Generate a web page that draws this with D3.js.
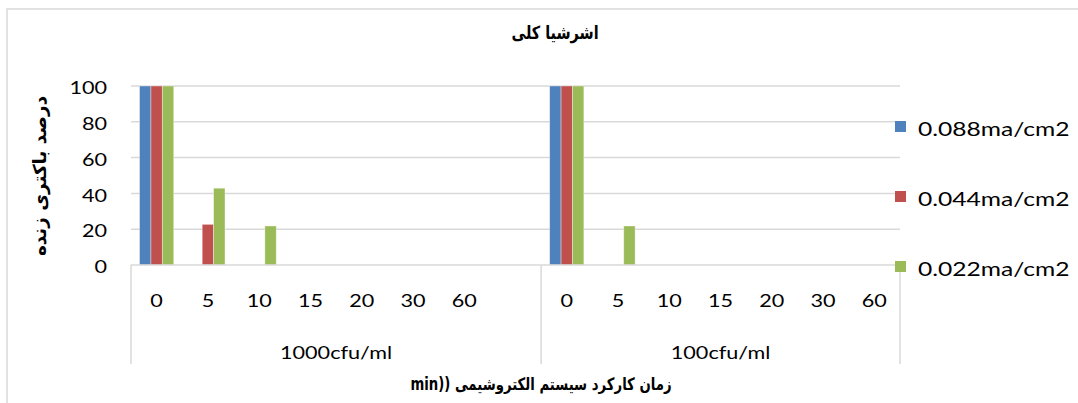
<!DOCTYPE html>
<html>
<head>
<meta charset="utf-8">
<script src="https://cdn.jsdelivr.net/npm/d3@7"></script>
<style>
  html, body { margin: 0; padding: 0; background: #fff; }
  svg { display: block; }
  .latin { font-family: Lato, "Open Sans", sans-serif; fill: #000; }
  .fa { font-family: "DejaVu Sans", sans-serif; font-weight: bold; fill: #000; }
</style>
</head>
<body>
<svg id="chart" width="1078" height="403"></svg>
<script>
// Survival of E. coli under three current densities, two inoculum levels
const chartTitle = "اشرشیا کلی";
const yTitle = "درصد باکتری زنده";
const xTitle = "زمان کارکرد سیستم الکتروشیمی ((min";

const groupLabels = ["1000cfu/ml", "100cfu/ml"];
// time labels (min) per group; the first group carries one empty slot
const timeLabels1000 = ["0", "5", "10", "15", "20", "30", "60", ""];
const timeLabels100 = ["0", "5", "10", "15", "20", "30", "60"];

const seriesNames = ["0.088ma/cm2", "0.044ma/cm2", "0.022ma/cm2"];
const seriesColors = ["#4F81BD", "#C0504D", "#9BBB59"];

const values088_1000 = [100, 0, 0, 0, 0, 0, 0, null];
const values044_1000 = [100, 22.7, 0, 0, 0, 0, 0, null];
const values022_1000 = [100, 42.9, 21.8, 0, 0, 0, 0, null];
const values088_100 = [100, 0, 0, 0, 0, 0, 0];
const values044_100 = [100, 0, 0, 0, 0, 0, 0];
const values022_100 = [100, 21.8, 0, 0, 0, 0, 0];

const yTicks = [0, 20, 40, 60, 80, 100];

// ---- build slot list ----
const slots = [];
[[timeLabels1000, [values088_1000, values044_1000, values022_1000]],
 [timeLabels100, [values088_100, values044_100, values022_100]]]
  .forEach(([labels, vals], g) => {
    labels.forEach((lab, i) => {
      slots.push({ key: g + "-" + i, group: g, label: lab,
                   values: vals.map(v => v[i]) });
    });
  });

const svg = d3.select("#chart");
const SX = 1.2; // horizontal text stretch

function addText(parent, x, y, str, cls, size, anchor, sx, rotate) {
  const t = parent.append("text")
    .attr("class", cls)
    .attr("font-size", size)
    .attr("text-anchor", anchor || "middle")
    .attr("dominant-baseline", "central")
    .attr("transform", `translate(${x},${y})` + (rotate ? ` rotate(${rotate})` : "") + ` scale(${sx || SX},1)`)
    .text(str);
  if (cls === "fa") t.attr("direction", "rtl").attr("unicode-bidi", "embed");
  return t;
}

// outer frame
svg.append("rect").attr("x", 7).attr("y", 9).attr("width", 1090).attr("height", 420)
  .attr("fill", "#fff").attr("stroke", "#D9D9D9").attr("stroke-width", 1.5);

const plot = { left: 131, right: 900, top: 86, bottom: 265 };

const x = d3.scaleBand().domain(slots.map(s => s.key))
  .range([plot.left, plot.right]).paddingInner(0).paddingOuter(0);
const y = d3.scaleLinear().domain([0, 100]).range([plot.bottom, plot.top]);

// gridlines
svg.append("g").selectAll("line").data(yTicks.filter(d => d > 0)).join("line")
  .attr("x1", plot.left).attr("x2", plot.right)
  .attr("y1", d => y(d)).attr("y2", d => y(d))
  .attr("stroke", "#D9D9D9").attr("stroke-width", 1.5);

// y tick labels
const yLab = svg.append("g");
yTicks.forEach(t => addText(yLab, 107, y(t) + 1, String(t), "latin", 18, "end"));

// bars
const barW = x.bandwidth() / 4.5;
const barG = svg.append("g");
slots.forEach(s => {
  const cx = x(s.key) + x.bandwidth() / 2;
  s.values.forEach((v, k) => {
    if (v == null || v <= 0) return;
    barG.append("rect")
      .attr("x", cx - 1.5 * barW + k * barW)
      .attr("y", y(v))
      .attr("width", barW)
      .attr("height", y(0) - y(v))
      .attr("fill", seriesColors[k])
      .attr("stroke", "rgba(255,255,255,0.45)")
      .attr("stroke-width", 0.8);
  });
});

// category axis
svg.append("line").attr("x1", plot.left).attr("x2", plot.right)
  .attr("y1", y(0)).attr("y2", y(0))
  .attr("stroke", "#D9D9D9").attr("stroke-width", 1.5);

const axG = svg.append("g");
slots.forEach(s => {
  if (s.label) addText(axG, x(s.key) + x.bandwidth() / 2, 300, s.label, "latin", 18, "middle");
});

// group dividers and labels
const groupBounds = groupLabels.map((lab, g) => {
  const ks = slots.filter(s => s.group === g).map(s => s.key);
  return { lab, x0: x(ks[0]), x1: x(ks[ks.length - 1]) + x.bandwidth() };
});
const divX = [groupBounds[0].x0, groupBounds[0].x1, groupBounds[1].x1];
axG.selectAll("line.div").data(divX).join("line").attr("class", "div")
  .attr("x1", d => d).attr("x2", d => d)
  .attr("y1", y(0)).attr("y2", 364)
  .attr("stroke", "#D9D9D9").attr("stroke-width", 1.5);
groupBounds.forEach(b => addText(axG, (b.x0 + b.x1) / 2, 352, b.lab, "latin", 18, "middle"));

// titles
addText(svg, 555, 33, chartTitle, "fa", 18, "middle", 0.8);
addText(svg, 40, 176, yTitle, "fa", 18, "middle", 1.02, -90);
addText(svg, 541, 384, xTitle, "fa", 17, "middle", 0.78);

// legend
const legY = [127, 197, 267];
const leg = svg.append("g");
seriesNames.forEach((n, i) => {
  leg.append("rect").attr("x", 895).attr("y", legY[i] - 6).attr("width", 11).attr("height", 11)
    .attr("fill", seriesColors[i]);
  addText(leg, 918, legY[i] + 1, n, "latin", 20, "start", 1.23);
});
</script>
</body>
</html>
